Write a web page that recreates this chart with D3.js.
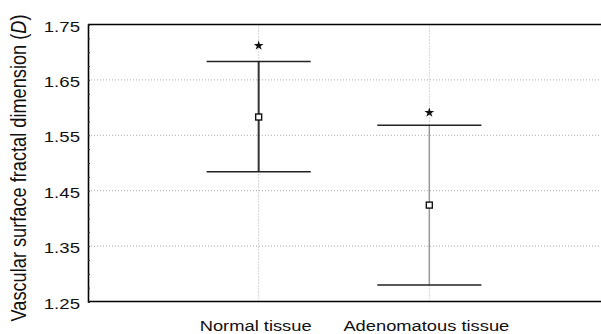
<!DOCTYPE html>
<meta charset="utf-8">
<style>
body { margin: 0; background: #fff; }
text { font-family: "Liberation Sans", Arial, sans-serif; fill: #111; }
.grid line { stroke: #aaa; stroke-width: 1; stroke-dasharray: 1,2; }
.frame { stroke: #000; stroke-width: 1.6; fill: none; }
</style>
<svg width="601" height="334"></svg>
<script src="https://d3js.org/d3.v7.min.js"></script>
<script>

// values
var categories = ["Normal tissue", "Adenomatous tissue"];
var upperCap = [1.683, 1.568];
var lowerCap = [1.484, 1.280];
var means = [1.583, 1.424];
var extremes = [1.712, 1.591];
var yTicks = [1.25, 1.35, 1.45, 1.55, 1.65, 1.75];
var yGrid = [1.35, 1.45, 1.55, 1.65];

var svg = d3.select("svg");

var x = d3.scaleLinear().domain([0, 3]).range([88, 600]);
var y = d3.scaleLinear().domain([1.25, 1.75]).range([301.5, 24.5]);

// gridlines
var grid = svg.append("g").attr("class", "grid");
grid.selectAll("line.h")
    .data(yGrid)
    .enter().append("line")
        .attr("x1", x(0)).attr("x2", x(3))
        .attr("y1", function(d) { return y(d); })
        .attr("y2", function(d) { return y(d); });
grid.selectAll("line.v")
    .data(categories)
    .enter().append("line")
        .attr("x1", function(d, i) { return x(i + 1); })
        .attr("x2", function(d, i) { return x(i + 1); })
        .attr("y1", y(1.75)).attr("y2", y(1.25));

// axes frame (top and bottom run to the edge)
svg.append("line").attr("class", "frame")
    .attr("x1", x(0)).attr("x2", 601).attr("y1", y(1.75)).attr("y2", y(1.75));
svg.append("line").attr("class", "frame")
    .attr("x1", x(0)).attr("x2", 601).attr("y1", y(1.25)).attr("y2", y(1.25));

var yAxis = svg.append("g")
    .attr("transform", "translate(" + x(0) + ",0)")
    .call(d3.axisRight(y).tickValues(d3.range(1.25, 1.7501, 0.025)).tickSize(2).tickFormat(""));
yAxis.select(".domain").attr("stroke", "#000").attr("stroke-width", 1.6);
yAxis.selectAll(".tick line").attr("stroke", "#333");

// tick labels
svg.selectAll("text.ytick")
    .data(yTicks)
    .enter().append("text")
        .attr("class", "ytick")
        .attr("text-anchor", "end")
        .attr("font-size", "14px")
        .attr("transform", function(d) { return "translate(80," + (y(d) + 7) + ") scale(1.33,1)"; })
        .text(function(d) { return d.toFixed(2); });

// category labels
svg.selectAll("text.xlab")
    .data(categories)
    .enter().append("text")
        .attr("class", "xlab")
        .attr("text-anchor", "middle")
        .attr("font-size", "15.4px")
        .attr("transform", function(d, i) { return "translate(" + (x(i + 1) - 3) + ",331) scale(1.19,1)"; })
        .text(function(d) { return d; });

// y axis title
var title = svg.append("text")
    .attr("text-anchor", "middle")
    .attr("font-size", "18.2px")
    .attr("transform", "translate(26,168) scale(1.18,1) rotate(-90)");
title.append("tspan").text("Vascular surface fractal dimension (");
title.append("tspan").attr("font-style", "italic").text("D");
title.append("tspan").text(")");

// whiskers
var half = 0.305;
var stemColor = ["#333", "#999"];
var stemWidth = [2, 1.5];
categories.forEach(function(c, i) {
    var cx = x(i + 1);
    svg.append("line")
        .attr("x1", cx).attr("x2", cx)
        .attr("y1", y(upperCap[i])).attr("y2", y(lowerCap[i]))
        .attr("stroke", stemColor[i]).attr("stroke-width", stemWidth[i]);
    [upperCap[i], lowerCap[i]].forEach(function(v) {
        svg.append("line")
            .attr("x1", x(i + 1 - half)).attr("x2", x(i + 1 + half))
            .attr("y1", y(v)).attr("y2", y(v))
            .attr("stroke", "#222").attr("stroke-width", 1.5);
    });
});

// mean squares
svg.selectAll("rect.mean")
    .data(means)
    .enter().append("rect")
        .attr("class", "mean")
        .attr("x", function(d, i) { return x(i + 1) - 3; })
        .attr("y", function(d) { return y(d) - 3; })
        .attr("width", 6).attr("height", 6)
        .attr("fill", "#fff").attr("stroke", "#111").attr("stroke-width", 1.4);

// extreme stars
svg.selectAll("path.star")
    .data(extremes)
    .enter().append("path")
        .attr("class", "star")
        .attr("d", d3.symbol().type(d3.symbolStar).size(30))
        .attr("transform", function(d, i) { return "translate(" + x(i + 1) + "," + y(d) + ")"; })
        .attr("fill", "#111");

</script>
